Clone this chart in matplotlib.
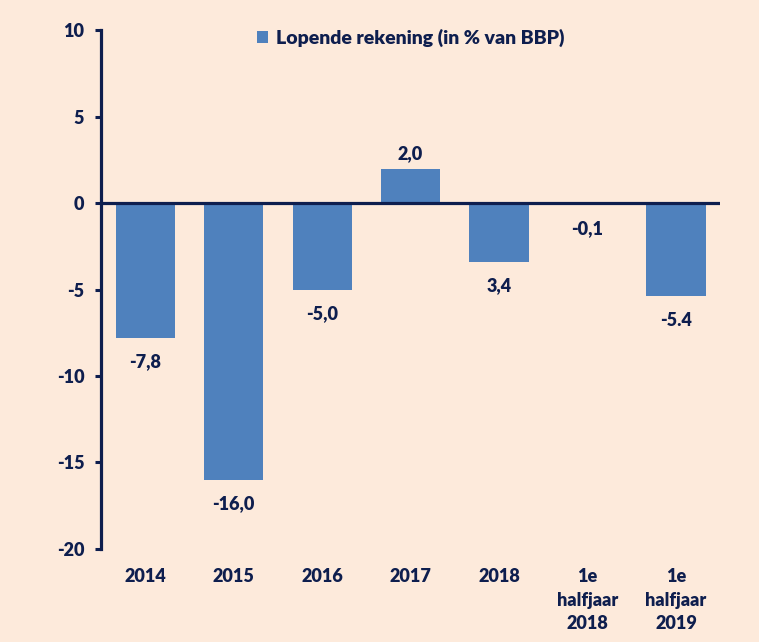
import matplotlib.pyplot as plt
from matplotlib.patches import Patch

categories = ["2014", "2015", "2016", "2017", "2018", "1e\nhalfjaar\n2018", "1e\nhalfjaar\n2019"]
values = [-7.8, -16.0, -5.0, 2.0, -3.4, -0.1, -5.4]
labels = ["-7,8", "-16,0", "-5,0", "2,0", "3,4", "-0,1", "-5.4"]
legend_label = "Lopende rekening (in % van BBP)"

bg = "#FDEADB"
navy = "#0E1E4E"
blue = "#4F81BD"

plt.rcParams['font.family'] = ['Lato', 'DejaVu Sans']
plt.rcParams['font.weight'] = 'heavy'
plt.rcParams['axes.unicode_minus'] = False

fs = 13
wt = "heavy"

fig = plt.figure(figsize=(7.59, 6.42), dpi=100, facecolor=bg)
ax = fig.add_axes([0.133, 0.145, 0.816, 0.808])
ax.set_facecolor(bg)

x = list(range(len(categories)))
ax.bar(x, values, width=0.67, color=blue, zorder=2)
ax.axhline(0, color=navy, linewidth=2.3, zorder=3)

for xi, v, lab in zip(x, values, labels):
    off = 11 if v > 0 else -17
    ax.annotate(lab, (xi, v), xytext=(0, off), textcoords="offset points",
                ha="center", va="center", fontsize=fs, fontweight=wt, color=navy)

ax.set_xlim(-0.5, 6.5)
ax.set_ylim(-20, 10)
ax.set_yticks([-20, -15, -10, -5, 0, 5, 10])
ax.set_xticks(x)
ax.set_xticklabels(categories, linespacing=1.45)
ax.tick_params(axis="x", length=0, pad=14, labelsize=fs, labelcolor=navy)
ax.tick_params(axis="y", length=4, width=2.2, color=navy, pad=8, labelsize=fs, labelcolor=navy)
for lbl in ax.get_xticklabels() + ax.get_yticklabels():
    lbl.set_fontweight(wt)
for lbl in ax.get_xticklabels():
    lbl.set_verticalalignment("top")

for s in ["top", "right", "bottom"]:
    ax.spines[s].set_visible(False)
ax.spines["left"].set_color(navy)
ax.spines["left"].set_linewidth(2.3)

handle = Patch(facecolor=blue, edgecolor="none")
leg = ax.legend([handle], [legend_label], loc="upper center", bbox_to_anchor=(0.5, 1.036),
                frameon=False, handlelength=0.6, handleheight=0.6, handletextpad=0.4,
                prop={"size": 14, "weight": wt})
for t in leg.get_texts():
    t.set_color(navy)

fig.savefig("out.png", dpi=100, facecolor=bg)
